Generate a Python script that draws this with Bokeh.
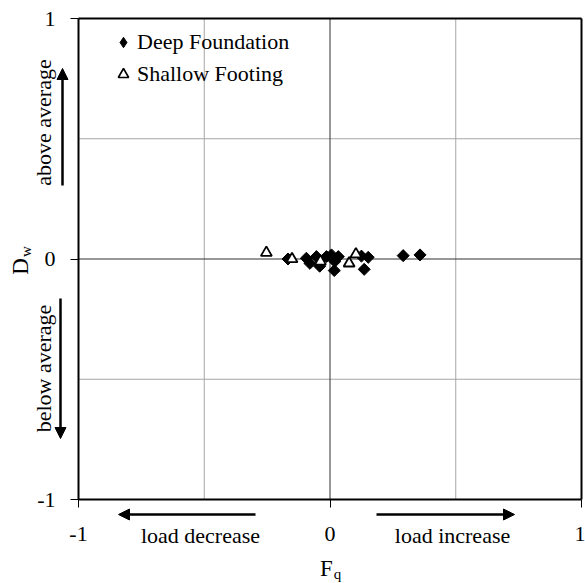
from bokeh.plotting import figure
from bokeh.models import (Range1d, FixedTicker, Label, Arrow, NormalHead,
                          Legend, LegendItem, LinearAxis)
from bokeh.embed import file_html
from bokeh.resources import INLINE
import math

# ---- data ----
deep_fq = [-0.167, -0.094, -0.080, -0.054, -0.041, -0.014, 0.006, 0.019, 0.017, 0.033,
           0.125, 0.152, 0.136, 0.291, 0.358]
deep_dw = [0.000, 0.003, -0.018, 0.010, -0.030, 0.010, 0.017, -0.010, -0.048, 0.010,
           0.012, 0.007, -0.043, 0.014, 0.017]
shallow_fq = [-0.253, -0.151, -0.038, 0.103, 0.076]
shallow_dw = [0.026, 0.000, -0.010, 0.020, -0.018]

x_ticks = [-1, 0, 1]
y_ticks = [-1, 0, 1]
tick_labels = {-1: "-1", 0: "0", 1: "1"}
grid_ticks = [-0.5, 0.5]
zero_line = [0]

FONT = "Liberation Serif"
FS = "22px"

# ---- layout (pixels) ----
W, H = 585, 583
LEFT, RIGHT, TOP, BOTTOM = 78, 581, 18, 499     # plotting box on the canvas
XMIN, XMAX = x_ticks[0], x_ticks[-1]
YMIN, YMAX = y_ticks[0], y_ticks[-1]
sx = (RIGHT - LEFT) / (XMAX - XMIN)
sy = (BOTTOM - TOP) / (YMAX - YMIN)

def dx(px):
    return XMIN + (px - LEFT) / sx

def dy(py):
    return YMAX - (py - TOP) / sy

p = figure(width=W, height=H, output_backend="svg", toolbar_location=None,
           x_range=Range1d(dx(0), dx(W)), y_range=Range1d(dy(H), dy(0)),
           min_border=0, min_border_left=0, min_border_right=0,
           min_border_top=0, min_border_bottom=0)
p.background_fill_color = "white"
p.border_fill_color = "white"
p.outline_line_color = None
p.xgrid.visible = False
p.ygrid.visible = False

def style_axis(ax, ticks, labels=True):
    ax.axis_line_width = 2
    ax.axis_line_color = "black"
    ax.minor_tick_line_color = None
    ax.ticker = FixedTicker(ticks=ticks)
    ax.major_tick_in = 0
    ax.major_tick_out = 8 if labels else 0
    ax.major_tick_line_color = "black" if labels else None
    ax.major_label_text_font = FONT
    ax.major_label_text_font_size = FS if labels else "0px"
    ax.major_label_text_color = "black"
    ax.major_label_overrides = dict(tick_labels)
    ax.axis_label = None

xa = p.xaxis[0]
ya = p.yaxis[0]
style_axis(xa, x_ticks)
style_axis(ya, y_ticks)
xa.fixed_location = YMIN
ya.fixed_location = XMIN
xa.bounds = (XMIN, XMAX)
ya.bounds = (YMIN, YMAX)
xa.major_label_standoff = 19
ya.major_label_standoff = 15

top_ax = LinearAxis()
style_axis(top_ax, [], labels=False)
top_ax.fixed_location = YMAX
top_ax.bounds = (XMIN, XMAX)
p.add_layout(top_ax, "above")
right_ax = LinearAxis()
style_axis(right_ax, [], labels=False)
right_ax.fixed_location = XMAX
right_ax.bounds = (YMIN, YMAX)
p.add_layout(right_ax, "right")

# grid lines and zero lines, limited to the plotting box
n = len(grid_ticks)
p.segment(x0=grid_ticks, y0=[YMIN] * n, x1=grid_ticks, y1=[YMAX] * n,
          line_color="#a6a6a6", line_width=1)
p.segment(x0=[XMIN] * n, y0=grid_ticks, x1=[XMAX] * n, y1=grid_ticks,
          line_color="#a6a6a6", line_width=1)
p.segment(x0=zero_line, y0=[YMIN], x1=zero_line, y1=[YMAX], line_color="#303030", line_width=1)
p.segment(x0=[XMIN], y0=zero_line, x1=[XMAX], y1=zero_line, line_color="#303030", line_width=1)

deep = p.scatter(deep_fq, deep_dw, marker="square", size=8.5, angle=math.pi / 4,
                 fill_color="black", line_color="black")
shal = p.scatter(shallow_fq, shallow_dw, marker="triangle", size=11,
                 fill_color="white", line_color="black", line_width=1.8)
# legend keys (not drawn in the plot: NaN position)
nan = float("nan")
deep_key = p.scatter([nan], [nan], marker="diamond", fill_color="black", line_color="black")
shal_key = p.scatter([nan], [nan], marker="triangle", fill_color="white", line_color="black",
                     line_width=1.6)

legend = Legend(items=[LegendItem(label="Deep Foundation", renderers=[deep_key]),
                       LegendItem(label="Shallow Footing", renderers=[shal_key])],
                location=(110, H - 87), background_fill_alpha=0, border_line_color=None,
                padding=0, margin=0, spacing=6, glyph_width=26, glyph_height=26,
                label_standoff=1, label_text_font=FONT, label_text_font_size=FS,
                label_text_color="black", label_height=26)
p.add_layout(legend, "center")

def lab(text, px, py, size=FS, angle=0.0):
    p.add_layout(Label(x=dx(px), y=dy(py), text=text,
                       text_font=FONT, text_font_size=size,
                       text_align="center", text_baseline="middle", angle=angle,
                       text_color="black"))

# axis titles (with subscripts)
lab("D", 20, 266, "23px", math.pi / 2)
lab("w", 25, 251, "15px", math.pi / 2)
lab("F", 326, 568, "23px")
lab("q", 337, 573, "15px")

# direction annotations
lab("above average", 43, 122, FS, math.pi / 2)
lab("below average", 43, 368, FS, math.pi / 2)
lab("load decrease", 200, 535)
lab("load increase", 452, 535)

def arr(x0, y0, x1, y1):
    p.add_layout(Arrow(x_start=dx(x0), y_start=dy(y0), x_end=dx(x1), y_end=dy(y1),
                       line_width=2.5, line_color="black",
                       end=NormalHead(size=11, fill_color="black", line_color="black")))

arr(62, 185, 62, 68)
arr(60, 298, 60, 438)
arr(255, 514, 118, 514)
arr(376, 514, 514, 514)

open("out.html", "w").write(file_html(p, INLINE))
